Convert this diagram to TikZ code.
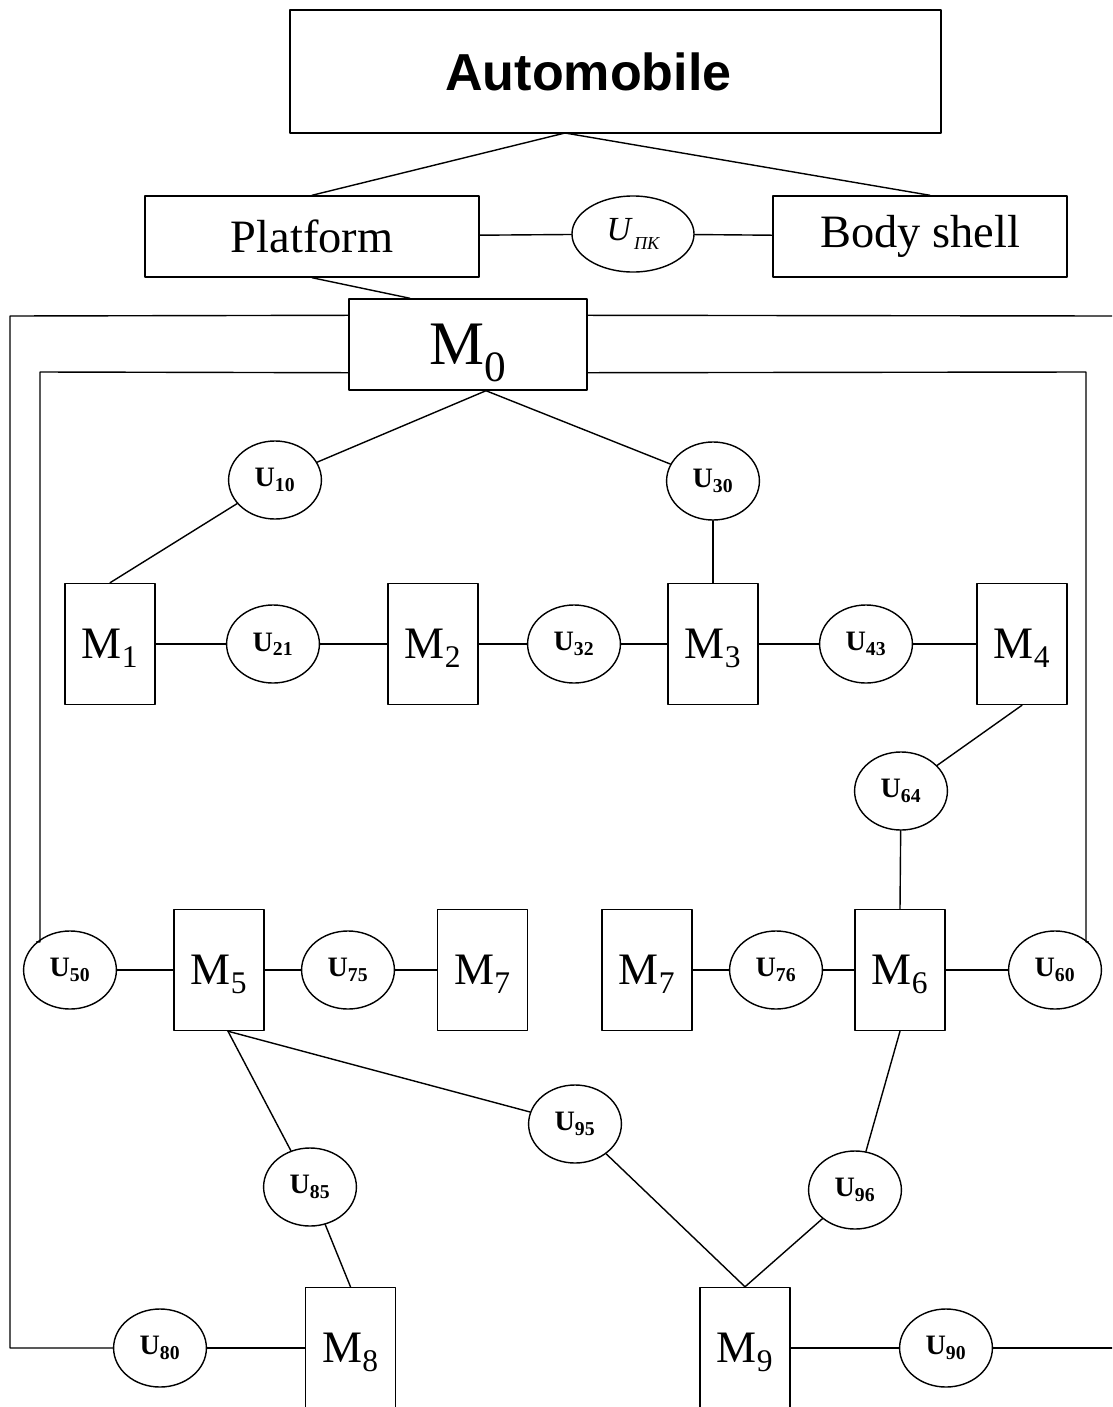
\documentclass[tikz,border=0pt]{standalone}
\usepackage{fontspec}
\setmainfont{Liberation Serif}
\newfontfamily\headfont{Liberation Sans}
\usetikzlibrary{shapes.geometric,calc}

\begin{document}
\begin{tikzpicture}[x=0.025cm, y=-0.025cm, line width=1pt, line join=round, line cap=round,
	mbox/.style={draw, rectangle, inner sep=0pt, text depth=0pt, minimum width=2.25cm, minimum height=3.025cm, font=\fontsize{32}{34}\selectfont},
	uell/.style={draw, ellipse, inner sep=0pt, minimum width=2.32cm, minimum height=1.95cm, font=\fontsize{20}{22}\selectfont\bfseries},
	partbox/.style={draw, rectangle, inner sep=0pt, minimum height=2.025cm, font=\fontsize{33}{35}\selectfont}]
	\def\xL{10} \def\xl{40} \def\xr{1086} \def\xR{1112} % loop lines
	\def\ya{644} \def\yb{970} \def\yc{1348} % rows
	\useasboundingbox (0,0) rectangle (1112,1407);
	\clip (0,0) rectangle (1112,1407);
	% top part
	\node[draw, inner sep=0pt, minimum width=16.275cm, minimum height=3.075cm, font=\headfont\bfseries\fontsize{37}{40}\selectfont] (auto) at (615.5,71.5) {\hspace*{-1.35cm}Automobile};
	\node[partbox, minimum width=8.35cm] (plat) at (312,236.5) {Platform};
	\node[partbox, minimum width=7.35cm] (body) at (920,236.5) {Body shell};
	\node[draw, ellipse, inner sep=0pt, minimum width=3.05cm, minimum height=1.9cm, font=\fontsize{24}{26}\selectfont\itshape] (upk) at (633,234) {U\raisebox{-0.6ex}{\fontsize{13}{14}\selectfont\,ПК}};
	\node[draw, inner sep=0pt, text depth=0pt, minimum width=5.95cm, minimum height=2.275cm, font=\fontsize{44}{46}\selectfont] (m0) at (468,344.5) {M\textsubscript{0}};
	% modules
	\node[uell] (u10) at (275,480) {U\textsubscript{10}};
	\node[uell] (u30) at (713,481) {U\textsubscript{30}};
	\node[mbox] (m1) at (110,\ya) {M\textsubscript{1}};
	\node[uell] (u21) at (273,\ya) {U\textsubscript{21}};
	\node[mbox] (m2) at (433,\ya) {M\textsubscript{2}};
	\node[uell] (u32) at (574,\ya) {U\textsubscript{32}};
	\node[mbox] (m3) at (713,\ya) {M\textsubscript{3}};
	\node[uell] (u43) at (866,\ya) {U\textsubscript{43}};
	\node[mbox] (m4) at (1022,\ya) {M\textsubscript{4}};
	\node[uell] (u64) at (901,791) {U\textsubscript{64}};
	\node[uell] (u50) at (70,\yb) {U\textsubscript{50}};
	\node[mbox] (m5) at (219,\yb) {M\textsubscript{5}};
	\node[uell] (u75) at (348,\yb) {U\textsubscript{75}};
	\node[mbox] (m7a) at (482.5,\yb) {M\textsubscript{7}};
	\node[mbox] (m7b) at (647,\yb) {M\textsubscript{7}};
	\node[uell] (u76) at (776,\yb) {U\textsubscript{76}};
	\node[mbox] (m6) at (900,\yb) {M\textsubscript{6}};
	\node[uell] (u60) at (1055,\yb) {U\textsubscript{60}};
	\node[uell] (u95) at (575,1124) {U\textsubscript{95}};
	\node[uell] (u85) at (310,1187) {U\textsubscript{85}};
	\node[uell] (u96) at (855,1190) {U\textsubscript{96}};
	\node[uell] (u80) at (160,\yc) {U\textsubscript{80}};
	\node[mbox] (m8) at (350.5,\yc) {M\textsubscript{8}};
	\node[mbox] (m9) at (745,\yc) {M\textsubscript{9}};
	\node[uell] (u90) at (946,\yc) {U\textsubscript{90}};
	\coordinate (autob) at (565,133);
	\coordinate (m0b) at ($(m0.south)+(18,0)$);
	\coordinate (m5b) at ($(m5.south)+(9,0)$);
	% links
	\draw (autob) -- (plat.north);
	\draw (autob) -- ($(body.north)+(10,0)$);
	\draw (plat.south) -- ($(m0.north)+(-58,0)$);
	\draw (plat) -- (upk) -- (body);
	\draw ($(m0.north west)+(0,17)$) -- (\xL,316) |- (u80);
	\draw ($(m0.north east)+(0,17)$) -- (\xR,316);
	\draw ($(m0.south west)+(0,-18)$) -- (\xl,372) |- (u50.north west);
	\draw ($(m0.south east)+(0,-18)$) -- (\xr,372) |- (u60.north east);
	\draw (u10) -- (m0b) -- (u30);
	\draw (u10) -- (m1.north);
	\draw (u30) -- (m3.north);
	\draw (m1) -- (u21) -- (m2) -- (u32) -- (m3) -- (u43) -- (m4);
	\draw (m4.south) -- (u64) -- (m6.north);
	\draw (u50) -- (m5) -- (u75) -- (m7a);
	\draw (m7b) -- (u76) -- (m6) -- (u60);
	\draw (m5b) -- (u85) -- (m8.north);
	\draw (m5b) -- (u95) -- (m9.north);
	\draw (m6.south) -- (u96) -- (m9.north);
	\draw (u80) -- (m8);
	\draw (m9) -- (u90) -- (\xR,\yc);
\end{tikzpicture}
\end{document}
